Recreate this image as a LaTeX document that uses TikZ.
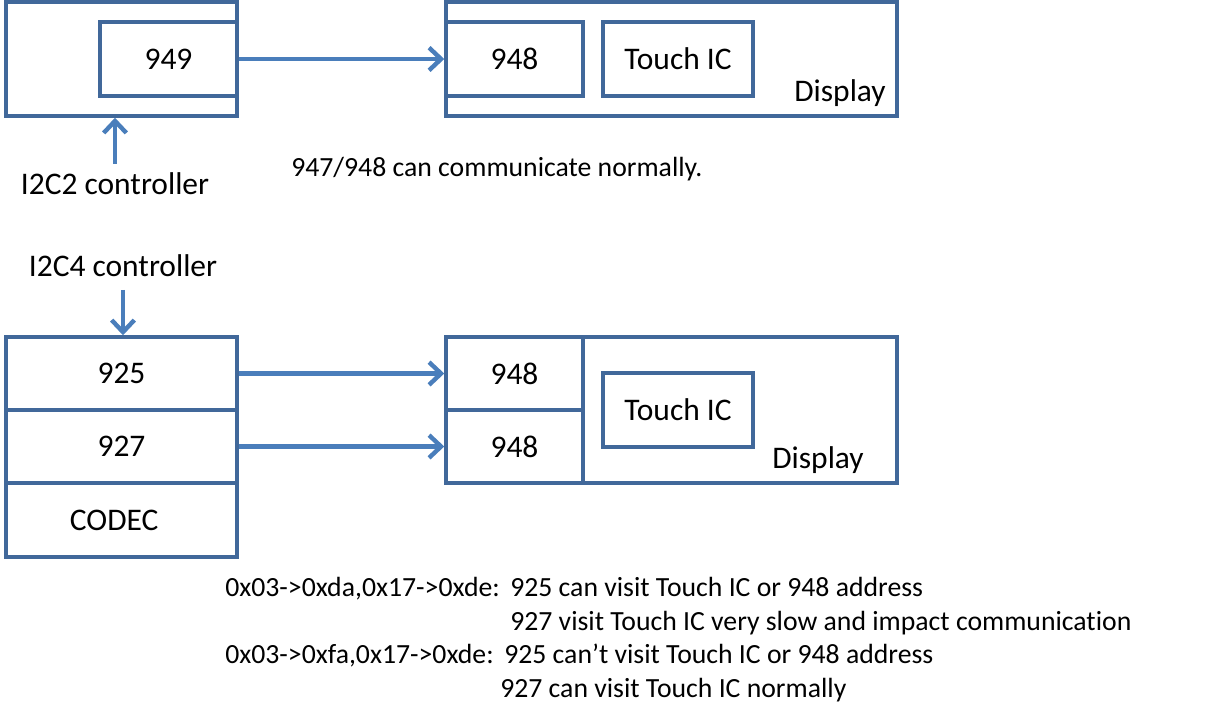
\documentclass[tikz,border=0pt]{standalone}
\usepackage{fontspec}
\setmainfont{Carlito}[Ligatures=NoCommon]
\usetikzlibrary{arrows.meta,fit}
\definecolor{boxline}{HTML}{41689A}
\definecolor{wire}{HTML}{4A7EBB}
\tikzset{
  box/.style={draw=boxline,line width=2.6pt,inner sep=0pt},
  link/.style={draw=wire,line width=3.3pt,-{Straight Barb[length=9pt,width=17pt]}},
  lbl/.style={font=\fontsize{23.6}{28}\selectfont,inner sep=0pt},
  note/.style={font=\fontsize{20.8}{25}\selectfont,inner sep=0pt,anchor=base west},
}
\begin{document}
\begin{tikzpicture}[x=0.75pt,y=-0.75pt]
\useasboundingbox (0,0) rectangle (1230,722);
% I2C2 path
\node[box,fit={(6,2) (237,116)}] (soc1) {};
\node[box,fit={(100,22) (237,96)}] (s949) {};
\node[lbl] (t949) at (s949) {949};
\node[box,fit={(446,2) (897,116)}] (disp1) {};
\node[box,fit={(446,22) (583,96)}] (d948) {};
\node[lbl] (t948) at (d948) {948};
\node[box,fit={(603,22) (753,96)}] (tic1) {};
\node[lbl] (ttic1) at (tic1) {Touch IC};
\node[lbl,anchor=base east] (dl1) at (886,101) {Display};
\node[lbl,anchor=base] (i2c2) at (115,194) {I2C2 controller};
\node[note] (ok) at (291,176) {947/948 can communicate normally.};
\draw[link] (s949) -- (d948);
\draw[link,shorten <=6pt] (i2c2.north) -- (i2c2.north |- soc1.south);

% I2C4 path
\node[lbl,anchor=base] (i2c4) at (123,276) {I2C4 controller};
\node[box,fit={(6,337) (237,410)}] (s925) {};
\node[lbl] (t925) at (s925) {925};
\node[box,fit={(6,410) (237,483)}] (s927) {};
\node[lbl] (t927) at (s927) {927};
\node[box,fit={(6,483) (237,557)}] (codec) {};
\node[lbl] (tcodec) at ([xshift=-5.5pt]codec.center) {CODEC};
\node[box,fit={(446,337) (897,483)}] (disp2) {};
\node[box,fit={(446,337) (583,410)}] (d948a) {};
\node[lbl] (t948a) at (d948a) {948};
\node[box,fit={(446,410) (583,483)}] (d948b) {};
\node[lbl] (t948b) at (d948b) {948};
\node[box,fit={(603,373) (753,447)}] (tic2) {};
\node[lbl] (ttic2) at (tic2) {Touch IC};
\node[lbl,anchor=base east] (dl2) at (864,468) {Display};
\draw[link,shorten <=10pt] (i2c4.south) -- (i2c4.south |- s925.north);
\draw[link] (s925) -- (d948a);
\draw[link] (s927) -- (d948b);

% register settings
\node[note] (c1) at (225,596) {0x03->0xda,0x17->0xde:};
\node[note] (r1) at (510,596) {925 can visit Touch IC or 948 address};
\node[note] (r2) at (510,630) {927 visit Touch IC very slow and impact communication};
\node[note] (c2) at (225,663) {0x03->0xfa,0x17->0xde:};
\node[note] (r3) at (504,663) {925 can’t visit Touch IC or 948 address};
\node[note] (r4) at (500,697) {927 can visit Touch IC normally};
\end{tikzpicture}
\end{document}
